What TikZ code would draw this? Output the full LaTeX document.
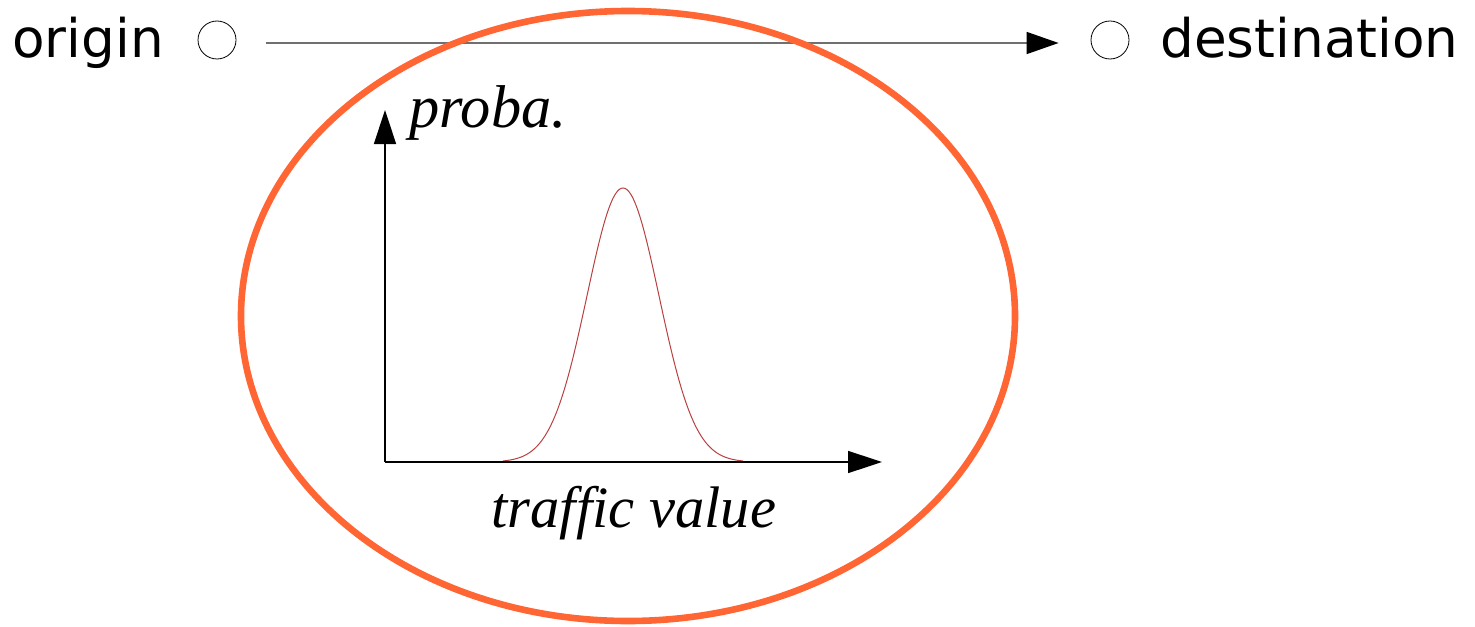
\documentclass[tikz,border=0pt]{standalone}
\usepackage{fontspec}
\setmainfont{Liberation Serif}
\newfontfamily\dvsans{DejaVu Sans}
\usetikzlibrary{arrows.meta}
\definecolor{ringorange}{HTML}{FF6633}
\definecolor{curvered}{HTML}{B84040}
\definecolor{linkgray}{HTML}{707070}
\tikzset{
  endpoint/.style={circle,draw=black,line width=0.4pt,inner sep=0pt,minimum size=19pt},
  bigtext/.style={font=\dvsans\fontsize{26.6pt}{30pt}\selectfont,inner sep=0pt,anchor=base west},
  axtext/.style={font=\itshape\fontsize{29.3pt}{33pt}\selectfont,inner sep=0pt,anchor=base west},
  axisline/.style={line width=0.75pt,draw=black,-{Triangle[length=17pt,width=11pt]}},
  link/.style={line width=0.75pt,draw=linkgray,-{Triangle[length=16pt,width=11pt,color=black,fill=black]}}
}
\begin{document}
\begin{tikzpicture}[x=0.5pt,y=-0.5pt]
\useasboundingbox (0,0) rectangle (1475,626);
\node[bigtext] (olabel) at (12,58) {origin};
\node[endpoint] (o) at (217,40) {};
\node[endpoint] (d) at (1110,40) {};
\node[bigtext] (dlabel) at (1160,58) {destination};
\draw[link] ([shift={(15pt,-1.5pt)}]o.east) -- ([shift={(-16pt,-1.5pt)}]d.west);
\draw[ringorange,line width=3.3pt] (628,316) ellipse [x radius=387, y radius=305];
\coordinate (ax0) at (385,462);
\coordinate (ytip) at (385,110);
\coordinate (xtip) at (882,462);
\draw[curvered,line width=0.5pt] plot[domain=503:743,samples=121,smooth] (\x,{462-274*exp(-((\x-623)^2)/2592)});
\draw[axisline] (ax0) -- (ytip);
\draw[axisline] (ax0) -- (xtip);
\node[axtext,font=\itshape\fontsize{30.2pt}{34pt}\selectfont] (ylabel) at (409,127) {proba.};
\node[axtext] (xlabel) at (491,527) {traffic value};
\end{tikzpicture}
\end{document}
